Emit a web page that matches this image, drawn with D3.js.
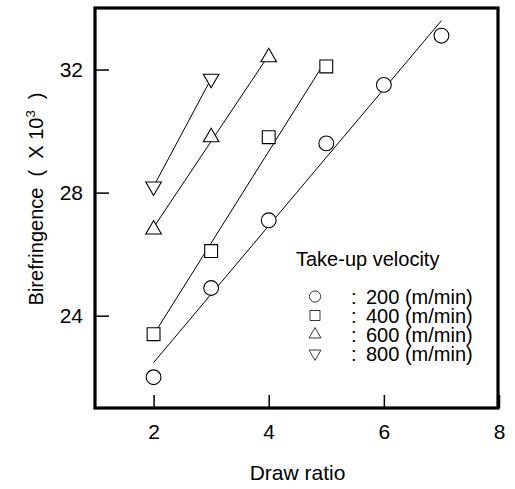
<!DOCTYPE html>
<html>
<head>
<meta charset="utf-8">
<script src="https://cdn.jsdelivr.net/npm/d3@7"></script>
<style>
  body { margin: 0; background: #fff; }
  text { font-family: "Liberation Sans", Arial, sans-serif; fill: #000; }
</style>
</head>
<body>
<svg id="drawspace" width="515" height="489"></svg>
<script>
// data
const drawRatio = [2, 3, 4, 5, 6, 7];
const bire200 = [22.0, 24.9, 27.1, 29.6, 31.5, 33.1];
const bire400 = [23.4, 26.1, 29.8, 32.1];
const bire600 = [26.8, 29.8, 32.4];
const bire800 = [28.2, 31.7];
const velocities = ["200", "400", "600", "800"];
const xTicks = [2, 4, 6, 8];
const yTicks = [24, 28, 32];

let drawspace = d3.select("#drawspace");

const plotLeft = 96, plotRight = 499, plotTop = 8, plotBottom = 408;

var xScale = d3.scaleLinear().domain([1, 8]).range([plotLeft, plotRight]);
var yScale = d3.scaleLinear().domain([21, 34]).range([plotBottom, plotTop]);

const series = [bire200, bire400, bire600, bire800].map((vals, i) => ({
  name: velocities[i],
  points: vals.map((v, j) => ({ x: drawRatio[j], y: v }))
}));

const symbols = [
  { type: d3.symbolCircle, size: 172, rot: 0 },
  { type: d3.symbolSquare, size: 165, rot: 0 },
  { type: d3.symbolTriangle, size: 105, rot: 0 },
  { type: d3.symbolTriangle, size: 105, rot: 180 }
];

// least squares fit for each series
function fit(points) {
  const mx = d3.mean(points, (d) => d.x);
  const my = d3.mean(points, (d) => d.y);
  const sxy = d3.sum(points, (d) => (d.x - mx) * (d.y - my));
  const sxx = d3.sum(points, (d) => (d.x - mx) * (d.x - mx));
  const b = sxy / sxx;
  const x0 = d3.min(points, (d) => d.x), x1 = d3.max(points, (d) => d.x);
  return [
    { x: x0, y: my + b * (x0 - mx) },
    { x: x1, y: my + b * (x1 - mx) }
  ];
}

const line = d3.line().x((d) => xScale(d.x)).y((d) => yScale(d.y));

drawspace.selectAll(".fit")
  .data(series)
  .enter()
  .append("path")
  .attr("class", "fit")
  .attr("d", (d) => line(fit(d.points)))
  .attr("fill", "none")
  .attr("stroke", "#000")
  .attr("stroke-width", 1);

series.forEach((s, i) => {
  drawspace.selectAll(".m" + i)
    .data(s.points)
    .enter()
    .append("path")
    .attr("class", "m" + i)
    .attr("d", d3.symbol().type(symbols[i].type).size(symbols[i].size))
    .attr("transform", (d) =>
      "translate(" + xScale(d.x) + "," + yScale(d.y) + ") rotate(" + symbols[i].rot + ")")
    .attr("fill", "#fff")
    .attr("stroke", "#000")
    .attr("stroke-width", 1.1);
});

// axes with inward ticks
var xAxis = drawspace.append("g")
  .attr("transform", "translate(0," + plotBottom + ")")
  .call(d3.axisBottom(xScale).tickValues(xTicks).tickFormat(d3.format("d"))
    .tickSize(-13).tickPadding(16));
var yAxis = drawspace.append("g")
  .attr("transform", "translate(" + plotLeft + ",0)")
  .call(d3.axisLeft(yScale).tickValues(yTicks).tickFormat(d3.format("d"))
    .tickSize(-13).tickPadding(13));

[xAxis, yAxis].forEach((g) => {
  g.select(".domain").remove();
  g.selectAll(".tick line").attr("stroke", "#000").attr("stroke-width", 1.5);
  g.selectAll(".tick text")
    .attr("font-size", "21px")
    .attr("font-family", "Liberation Sans, Arial, sans-serif")
    .attr("fill", "#000");
});

// frame
drawspace.append("rect")
  .attr("x", plotLeft - 1)
  .attr("y", plotTop)
  .attr("width", plotRight - plotLeft)
  .attr("height", plotBottom - plotTop)
  .attr("fill", "none")
  .attr("stroke", "#000")
  .attr("stroke-width", 3.2);

// axis titles
drawspace.append("text")
  .attr("x", (plotLeft + plotRight) / 2)
  .attr("y", 480)
  .attr("text-anchor", "middle")
  .attr("font-size", "21px")
  .text("Draw ratio");

var yt = drawspace.append("text")
  .attr("transform", "translate(43,199) rotate(-90)")
  .attr("text-anchor", "middle")
  .attr("font-size", "20px")
  .style("white-space", "pre");
yt.append("tspan").text("Birefringence  (  X 10");
yt.append("tspan").attr("font-size", "13px").attr("dy", "-8").text("3");
yt.append("tspan").attr("dy", "8").text("  )");

// legend
drawspace.append("text")
  .attr("x", 296)
  .attr("y", 266)
  .attr("font-size", "20px")
  .text("Take-up velocity");

const legendSymbols = [
  { type: d3.symbolCircle, size: 100 },
  { type: d3.symbolSquare, size: 100 },
  { type: d3.symbolTriangle, size: 62 },
  { type: d3.symbolTriangle, size: 62 }
];

var lg = drawspace.selectAll(".lg")
  .data(velocities)
  .enter()
  .append("g")
  .attr("class", "lg")
  .attr("transform", (d, i) => "translate(0," + (303.5 + i * 19) + ")");

lg.append("path")
  .attr("d", (d, i) => d3.symbol().type(legendSymbols[i].type).size(legendSymbols[i].size)())
  .attr("transform", (d, i) => "translate(315,-7) rotate(" + (i === 3 ? 180 : 0) + ")")
  .attr("fill", "#fff")
  .attr("stroke", "#222")
  .attr("stroke-width", 0.9);

lg.append("text")
  .attr("x", 351)
  .attr("font-size", "20px")
  .text(":");

lg.append("text")
  .attr("x", 366)
  .attr("font-size", "20px")
  .text((d) => d + " (m/min)");
</script>
</body>
</html>
